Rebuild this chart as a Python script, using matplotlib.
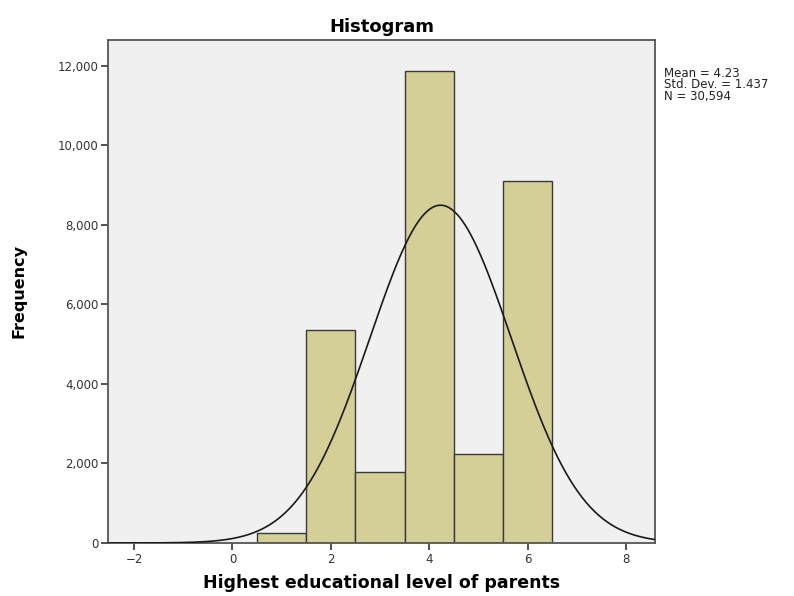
import numpy as np
import matplotlib
matplotlib.use("Agg")
import matplotlib.pyplot as plt
from matplotlib.ticker import FuncFormatter

# Histogram data
levels = [1, 2, 3, 4, 5, 6]
counts = [250, 5360, 1785, 11875, 2240, 9105]

# Summary statistics shown in the legend box
mean_val = 4.23
sd_val = 1.437
n_total = 30594

fig = plt.figure(figsize=(7.94, 5.96), dpi=100)
ax = fig.add_axes([0.136, 0.089, 0.689, 0.844])
ax.set_facecolor("#f0f0f0")

ax.bar(levels, counts, width=1.0, color="#d4cf97", edgecolor="#3a3a3a", linewidth=1.0, zorder=2)

# Normal curve fitted from the reported mean / std. dev. / N (bin width 1)
xs = np.linspace(-2.6, 8.7, 400)
ys = n_total / (sd_val * np.sqrt(2 * np.pi)) * np.exp(-0.5 * ((xs - mean_val) / sd_val) ** 2)
ax.plot(xs, ys, color="#1a1a1a", linewidth=1.2, zorder=3)

ax.set_xlim(-2.53, 8.59)
ax.set_ylim(0, 12650)
ax.set_xticks([-2, 0, 2, 4, 6, 8])
ax.set_yticks([0, 2000, 4000, 6000, 8000, 10000, 12000])
ax.yaxis.set_major_formatter(FuncFormatter(lambda v, p: f"{int(v):,}"))
ax.tick_params(axis="both", labelsize=8.5, colors="#333333", length=5, width=1.2,
               direction="out", pad=2)

for sp in ax.spines.values():
    sp.set_color("#555555")
    sp.set_linewidth(1.3)

ax.set_title("Histogram", fontsize=13, fontweight="bold", pad=6)
ax.set_xlabel("Highest educational level of parents", fontsize=12.5, fontweight="bold", labelpad=6)
ax.set_ylabel("Frequency", fontsize=11.5, fontweight="bold", labelpad=22)

fig.text(0.836, 0.888,
         f"Mean = {mean_val}\nStd. Dev. = {sd_val}\nN = {n_total:,}",
         fontsize=8.5, va="top", ha="left", linespacing=0.85, color="#222222")

plt.savefig("out.png", dpi=100)
plt.close()
